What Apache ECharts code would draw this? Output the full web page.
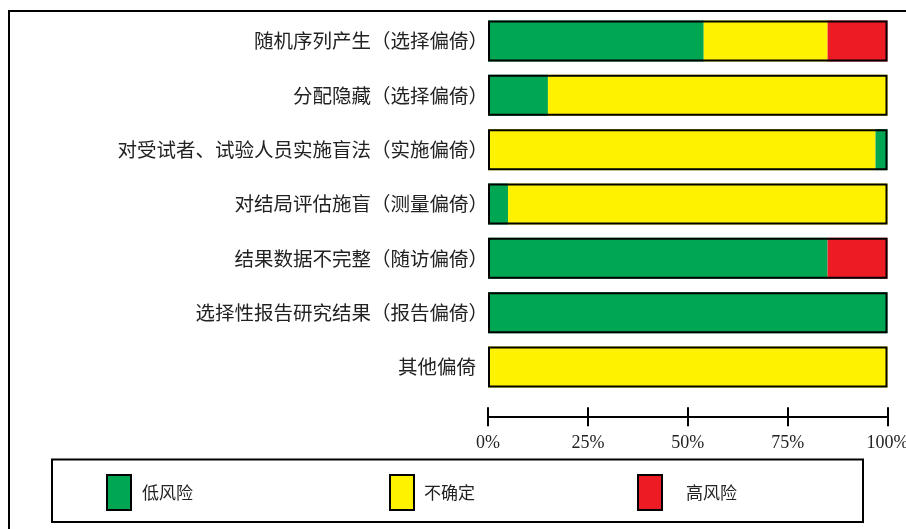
<!DOCTYPE html>
<html><head><meta charset="utf-8">
<script src="https://cdn.jsdelivr.net/npm/echarts@6/dist/echarts.min.js"></script>
<style>html,body{margin:0;padding:0;background:#fff}#c{width:906px;height:529px}</style>
</head><body><div id="c"></div>
<script>
var categories = ['随机序列产生（选择偏倚）','分配隐藏（选择偏倚）','对受试者、试验人员实施盲法（实施偏倚）','对结局评估施盲（测量偏倚）','结果数据不完整（随访偏倚）','选择性报告研究结果（报告偏倚）','其他偏倚'];
var lowRisk     = [54, 15, 0, 5, 85, 100, 0];
var unclear     = [31, 85, 97, 95, 0, 0, 100];
var lowRiskTail = [0, 0, 3, 0, 0, 0, 0];
var highRisk    = [15, 0, 0, 0, 15, 0, 0];
var totals      = [100, 100, 100, 100, 100, 100, 100];
var xTicks = [0, 25, 50, 75, 100];

var GREEN = '#00A651', YELLOW = '#FFF200', RED = '#ED1C24';
var chart = echarts.init(document.getElementById('c'));
function seg(name, data, color) {
  return {type:'bar', name:name, stack:'all', data:data, barWidth:41,
    itemStyle:{color:color, borderWidth:0}, emphasis:{disabled:true}, silent:true};
}
function leg(name, left, pad) {
  return {data:[name], left:left, top:474, padding:0, orient:'horizontal', icon:'rect',
    itemWidth:24, itemHeight:35, selectedMode:false,
    itemStyle:{borderColor:'#000', borderWidth:2},
    textStyle:{fontFamily:'Noto Sans CJK SC', fontSize:17, color:'#222', padding:[0,0,0,pad]}};
}
var labelFont = {fontFamily:'Noto Sans CJK SC', fontSize:19.5, color:'#222'};
chart.setOption({
  animation:false,
  grid:{left:488, right:18.5, top:13.8, height:380.4, containLabel:false, outerBoundsMode:'none'},
  legend:[leg('低风险',106,6), leg('不确定',389,5), leg('高风险',637,19)],
  xAxis:[
    {type:'value', min:0, max:100, interval:25, position:'bottom', offset:23,
     axisLine:{show:true, lineStyle:{color:'#000', width:2}},
     axisTick:{show:true, inside:false, length:9, lineStyle:{color:'#000', width:2}},
     splitLine:{show:false},
     axisLabel:{formatter:function(v){return xTicks.indexOf(v)>=0 ? v+'%' : '';}, margin:17,
       fontFamily:'Liberation Serif', fontSize:18, color:'#222'}},
    {type:'value', min:0, max:100, interval:25, position:'bottom', offset:23,
     axisLine:{show:false}, axisLabel:{show:false}, splitLine:{show:false},
     axisTick:{show:true, inside:true, length:10, lineStyle:{color:'#000', width:2}}}
  ],
  yAxis:{type:'category', data:categories, inverse:true,
    axisLine:{show:false}, axisTick:{show:false}, splitLine:{show:false},
    axisLabel:Object.assign({margin:0,
      formatter:function(v){ return v.slice(-1) === '）' ? '{a|' + v + '}' : '{b|' + v + '}'; },
      rich:{a:Object.assign({}, labelFont), b:Object.assign({padding:[0,12,0,0]}, labelFont)}
    }, labelFont)},
  series:[
    seg('低风险', lowRisk, GREEN),
    seg('不确定', unclear, YELLOW),
    seg('低风险', lowRiskTail, GREEN),
    seg('高风险', highRisk, RED),
    {type:'bar', name:'outline', data:totals, barWidth:41, barGap:'-100%', silent:true,
     itemStyle:{color:'rgba(0,0,0,0)', borderColor:'#000', borderWidth:2}, z:5}
  ],
  graphic:[
    {type:'rect', shape:{x:9, y:11, width:1000, height:1000}, style:{fill:null, stroke:'#000', lineWidth:2}, silent:true},
    {type:'rect', shape:{x:52, y:459.5, width:811, height:62.5}, style:{fill:null, stroke:'#000', lineWidth:2}, silent:true}
  ]
});
</script></body></html>
